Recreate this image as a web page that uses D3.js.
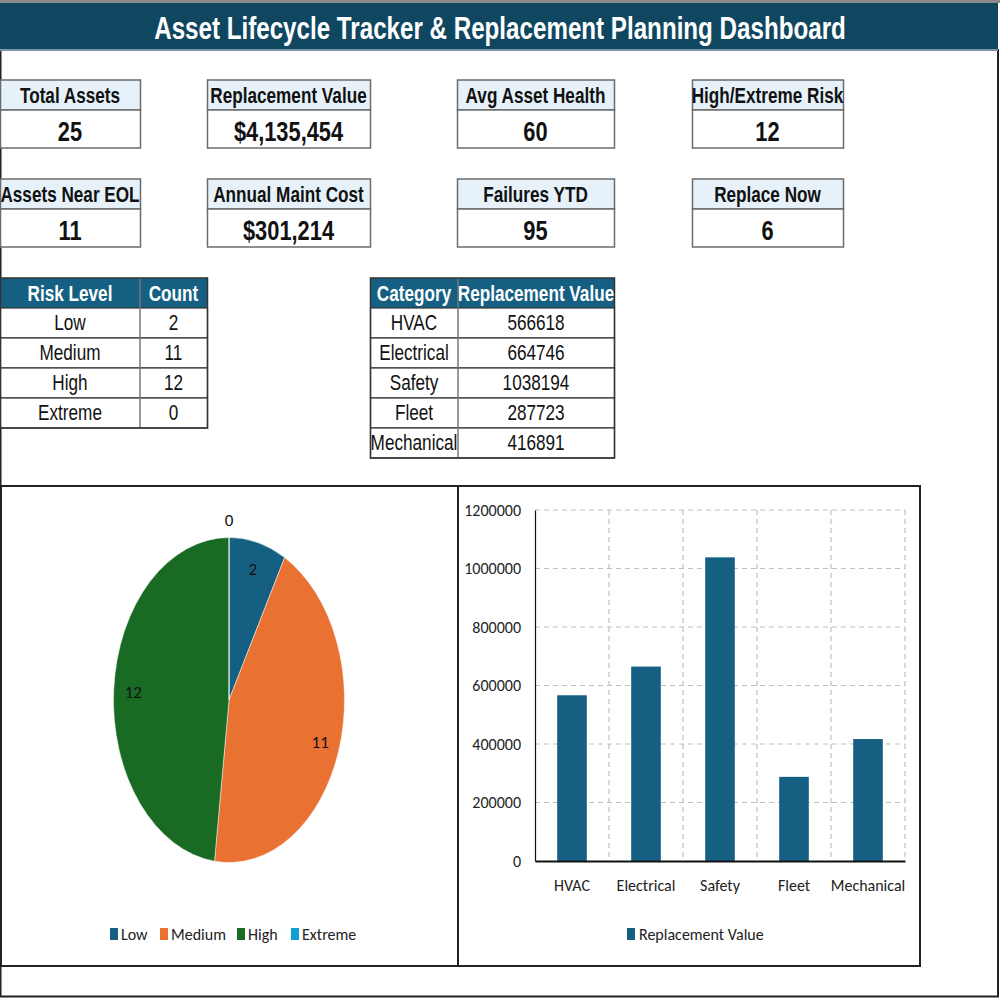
<!DOCTYPE html>
<html>
<head>
<meta charset="utf-8">
<script src="https://cdn.jsdelivr.net/npm/d3@7"></script>
<style>
  body { margin: 0; background: #fff; }
  svg { display: block; }
</style>
</head>
<body>
<div id="dash"></div>
<script>
// ---------- data ----------
var titleText = "Asset Lifecycle Tracker & Replacement Planning Dashboard";

var kpiLabels = ["Total Assets", "Replacement Value", "Avg Asset Health", "High/Extreme Risk",
                 "Assets Near EOL", "Annual Maint Cost", "Failures YTD", "Replace Now"];
var kpiValues = ["25", "$4,135,454", "60", "12", "11", "$301,214", "95", "6"];

var riskLevels = ["Low", "Medium", "High", "Extreme"];
var riskCounts = [2, 11, 12, 0];
var riskColors = ["#156082", "#E97132", "#196B24", "#0F9ED5"];

var categories = ["HVAC", "Electrical", "Safety", "Fleet", "Mechanical"];
var replacementValues = [566618, 664746, 1038194, 287723, 416891];
var barSeriesName = "Replacement Value";

// ---------- setup ----------
var W = 1000, H = 1000;
// no Arial Narrow here, so squeeze Liberation Sans horizontally
var narrow = '"Liberation Sans Narrow", "Liberation Sans", Arial, sans-serif';
var squeeze = 0.78;
var chartFont = 'Carlito, Calibri, Lato, "Noto Sans", sans-serif';

var svg = d3.select("#dash").append("svg")
	.attr("width", W)
	.attr("height", H);

// centred narrow text at (x, y)
var narrowText = function(parent, x, y, size, bold, color, txt)
{
	return parent.append("text")
		.attr("transform", "translate(" + x + "," + y + ") scale(" + squeeze + ",1)")
		.style("text-anchor", "middle")
		.style("font-family", narrow)
		.style("font-weight", bold ? "bold" : "normal")
		.style("font-size", size + "px")
		.style("fill", color)
		.text(txt);
}

// outer frame + top strip
svg.append("rect")
	.attr("x", 0).attr("y", 0).attr("width", W).attr("height", 3)
	.style("fill", "#8a8a8a");
svg.append("rect")
	.attr("x", 0.5).attr("y", 50).attr("width", 997.5).attr("height", 946.5)
	.style("fill", "none").style("stroke", "#222").style("stroke-width", 2);

// title bar
svg.append("rect")
	.attr("x", 0).attr("y", 3).attr("width", 998).attr("height", 47)
	.style("fill", "#0F4761");
svg.append("line")
	.attr("x1", 0).attr("x2", 998).attr("y1", 50).attr("y2", 50)
	.style("stroke", "#9fb3c4").style("stroke-width", 1.5);
narrowText(svg, 500, 39, 31, true, "#fff", titleText);

// ---------- KPI cards ----------
var kpiCols = [[0, 140], [207, 370], [457, 614], [692, 843]];
var kpiRows = [80, 179];

kpiLabels.forEach(function(l, i){
	var col = kpiCols[i % 4];
	var top = kpiRows[Math.floor(i / 4)];
	var g = svg.append("g").attr("class", "kpi");
	g.append("rect")
		.attr("x", col[0] + 0.5).attr("y", top)
		.attr("width", col[1] - col[0]).attr("height", 30)
		.style("fill", "#e6f1fa").style("stroke", "#6b6b6b").style("stroke-width", 1.5);
	g.append("rect")
		.attr("x", col[0] + 0.5).attr("y", top + 30)
		.attr("width", col[1] - col[0]).attr("height", 38)
		.style("fill", "#fff").style("stroke", "#6b6b6b").style("stroke-width", 1.5);
	narrowText(g, (col[0] + col[1]) / 2, top + 23, 22, true, "#111", l);
	narrowText(g, (col[0] + col[1]) / 2, top + 61, 28, true, "#111", kpiValues[i]);
});

// ---------- tables ----------
var drawTable = function(colEdges, top, headers, rows)
{
	var g = svg.append("g");
	var rowH = 30;
	var w = colEdges[colEdges.length - 1] - colEdges[0];
	g.append("rect")
		.attr("x", colEdges[0] + 0.5).attr("y", top).attr("width", w).attr("height", rowH)
		.style("fill", "#156082");
	headers.forEach(function(h, j){
		narrowText(g, (colEdges[j] + colEdges[j + 1]) / 2, top + 23, 22, true, "#fff", h);
	});
	rows.forEach(function(row, i){
		var y0 = top + rowH * (i + 1);
		g.append("rect")
			.attr("x", colEdges[0] + 0.5).attr("y", y0).attr("width", w).attr("height", rowH)
			.style("fill", "#fff").style("stroke", "#333").style("stroke-width", 1.2);
		row.forEach(function(cell, j){
			narrowText(g, (colEdges[j] + colEdges[j + 1]) / 2, y0 + 22, 22, false, "#111", cell);
		});
	});
	// column separators
	for (var k = 1; k < colEdges.length - 1; k++)
	{
		g.append("line")
			.attr("x1", colEdges[k]).attr("x2", colEdges[k])
			.attr("y1", top).attr("y2", top + rowH * (rows.length + 1))
			.style("stroke", "#777").style("stroke-width", 1.5);
	}
	g.append("rect")
		.attr("x", colEdges[0] + 0.5).attr("y", top).attr("width", w).attr("height", rowH * (rows.length + 1))
		.style("fill", "none").style("stroke", "#333").style("stroke-width", 1.5);
}

drawTable([0, 140, 207], 278, ["Risk Level", "Count"],
	riskLevels.map(function(l, i){ return [l, riskCounts[i]]; }));
drawTable([370, 458, 614], 278, ["Category", "Replacement Value"],
	categories.map(function(c, i){ return [c, replacementValues[i]]; }));

// ---------- chart boxes ----------
svg.append("rect")
	.attr("x", 1).attr("y", 486).attr("width", 457).attr("height", 480)
	.style("fill", "#fff").style("stroke", "#222").style("stroke-width", 2);
svg.append("rect")
	.attr("x", 458).attr("y", 486).attr("width", 462).attr("height", 480)
	.style("fill", "#fff").style("stroke", "#222").style("stroke-width", 2);

// ---------- pie chart ----------
var pie_cx = 229, pie_cy = 700, pie_rx = 115.5, pie_ry = 162.5;
var pieData = d3.pie().sort(null)(riskCounts);
var arc = d3.arc().innerRadius(0).outerRadius(pie_rx);

var pieG = svg.append("g")
	.attr("transform", "translate(" + pie_cx + "," + pie_cy + ") scale(1," + (pie_ry / pie_rx) + ")");
pieG.selectAll(".slice").data(pieData).enter()
	.append("path")
	.attr("class", "slice")
	.attr("d", arc)
	.style("fill", function(d, i){ return riskColors[i]; })
	.style("stroke", "#fff").style("stroke-width", 0.4);

svg.selectAll(".pie_label").data(pieData).enter()
	.append("text")
	.attr("class", "pie_label")
	.attr("x", function(d){
		var a = (d.startAngle + d.endAngle) / 2;
		var k = d.value == 0 ? 1.0 : 0.83;
		return pie_cx + Math.sin(a) * pie_rx * k;
	})
	.attr("y", function(d){
		var a = (d.startAngle + d.endAngle) / 2;
		var k = d.value == 0 ? 1.11 : 0.83;
		return pie_cy - Math.cos(a) * pie_ry * k + 6;
	})
	.style("text-anchor", "middle")
	.style("font-family", chartFont).style("font-size", "17px")
	.style("fill", "#111")
	.text(function(d){ return d.value; });

// pie legend
var pieLegendX = [110, 160, 237, 291];
var pl = svg.selectAll(".pie_legend").data(riskLevels).enter()
	.append("g").attr("class", "pie_legend")
	.attr("transform", function(d, i){ return "translate(" + pieLegendX[i] + ",928)"; });
pl.append("rect")
	.attr("width", 8).attr("height", 12)
	.style("fill", function(d, i){ return riskColors[i]; });
pl.append("text")
	.attr("x", 11).attr("y", 12)
	.style("font-family", chartFont).style("font-size", "16px")
	.style("fill", "#222")
	.text(function(d){ return d; });

// ---------- bar chart ----------
var scaleX = d3.scaleBand().domain(categories).range([535, 905]).paddingInner(0.6).paddingOuter(0.3);
var gridX = d3.scaleBand().domain(categories).range([535, 905]);
var scaleY = d3.scaleLinear().domain([0, 1200000]).range([861, 510]);
var yTicks = scaleY.ticks(6);

var bg = svg.append("g");
// horizontal dashed grid
bg.selectAll(".hgrid").data(yTicks.filter(function(t){ return t > 0; })).enter()
	.append("line")
	.attr("x1", 535).attr("x2", 905)
	.attr("y1", function(d){ return scaleY(d); })
	.attr("y2", function(d){ return scaleY(d); })
	.style("stroke", "#bfbfbf").style("stroke-width", 1.2).style("stroke-dasharray", "5,4");
// vertical dashed grid
bg.selectAll(".vgrid").data(categories).enter()
	.append("line")
	.attr("x1", function(d){ return gridX(d) + gridX.bandwidth(); })
	.attr("x2", function(d){ return gridX(d) + gridX.bandwidth(); })
	.attr("y1", 510).attr("y2", 861)
	.style("stroke", "#bfbfbf").style("stroke-width", 1.2).style("stroke-dasharray", "5,4");

bg.selectAll(".bar").data(replacementValues).enter()
	.append("rect")
	.attr("class", "bar")
	.attr("x", function(d, i){ return scaleX(categories[i]); })
	.attr("y", function(d){ return scaleY(d); })
	.attr("width", scaleX.bandwidth())
	.attr("height", function(d){ return scaleY(0) - scaleY(d); })
	.style("fill", "#156082");

// axes
var yAxis = bg.append("g")
	.attr("transform", "translate(535,0)")
	.call(d3.axisLeft(scaleY).tickValues(yTicks).tickSize(0).tickPadding(14).tickFormat(d3.format("d")));
yAxis.select(".domain").style("stroke", "#111").style("stroke-width", 1.2);
yAxis.selectAll("text")
	.style("font-family", chartFont).style("font-size", "16px").style("fill", "#222");

var xAxis = bg.append("g")
	.attr("transform", "translate(0,861)")
	.call(d3.axisBottom(gridX).tickSize(0).tickPadding(19));
xAxis.select(".domain").style("stroke", "#111").style("stroke-width", 2);
xAxis.selectAll("text")
	.style("font-family", chartFont).style("font-size", "16px").style("fill", "#222");

// bar legend
var bl = svg.append("g").attr("transform", "translate(627,928)");
bl.append("rect").attr("width", 8).attr("height", 12).style("fill", "#156082");
bl.append("text")
	.attr("x", 12).attr("y", 12)
	.style("font-family", chartFont).style("font-size", "16px").style("fill", "#222")
	.text(barSeriesName);
</script>
</body>
</html>
